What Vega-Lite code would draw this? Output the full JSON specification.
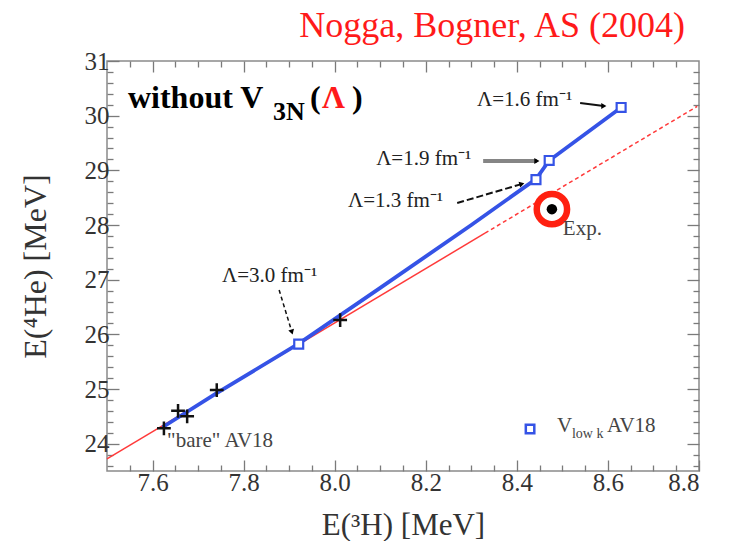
{
  "$schema": "https://vega.github.io/schema/vega-lite/v6.json",
  "width": 592,
  "height": 410,
  "autosize": {"type": "none"},
  "padding": {"left": 107, "top": 61, "right": 34, "bottom": 70},
  "datasets": {
    "tjon": [
      {"x": 7.5, "y": 23.72, "segment": "solid"},
      {"x": 8.33, "y": 27.85, "segment": "solid"},
      {"x": 8.33, "y": 27.85, "segment": "dotted"},
      {"x": 8.796, "y": 30.17, "segment": "dotted"}
    ],
    "vlowkLine": [
      {"x": 7.622, "y": 24.3},
      {"x": 7.74, "y": 24.92},
      {"x": 7.921, "y": 25.83},
      {"x": 8.1, "y": 26.85},
      {"x": 8.3, "y": 28.0},
      {"x": 8.442, "y": 28.84},
      {"x": 8.471, "y": 29.18},
      {"x": 8.629, "y": 30.15}
    ],
    "vlowk": [
      {"lambda": "1.6", "x": 8.629, "y": 30.15},
      {"lambda": "1.9", "x": 8.471, "y": 29.18},
      {"lambda": "1.3", "x": 8.442, "y": 28.83},
      {"lambda": "3.0", "x": 7.921, "y": 25.82}
    ],
    "bare": [
      {"x": 7.625, "y": 24.28},
      {"x": 7.656, "y": 24.6},
      {"x": 7.676, "y": 24.5},
      {"x": 7.741, "y": 24.98},
      {"x": 8.012, "y": 26.26}
    ],
    "exp": [{"x": 8.477, "y": 28.29}],
    "arrows": [
      {"label": "1.6", "x": 8.539, "y": 30.232, "x2": 8.591, "y2": 30.177},
      {"label": "1.9", "x": 8.326, "y": 29.171, "x2": 8.444, "y2": 29.171},
      {"label": "1.3", "x": 8.269, "y": 28.403, "x2": 8.411, "y2": 28.75},
      {"label": "3.0", "x": 7.878, "y": 26.811, "x2": 7.906, "y2": 26.043}
    ],
    "lambdaLabels": [
      {"text": "Λ=1.6 fm⁻¹", "x": 8.3125, "y": 30.177},
      {"text": "Λ=1.9 fm⁻¹", "x": 8.091, "y": 29.098},
      {"text": "Λ=1.3 fm⁻¹", "x": 8.029, "y": 28.33},
      {"text": "Λ=3.0 fm⁻¹", "x": 7.7525, "y": 26.958}
    ],
    "notes": [
      {"text": "\"bare\" AV18", "x": 7.632, "y": 23.94},
      {"text": "Exp.", "x": 8.501, "y": 27.817}
    ],
    "credit": [{"text": "Nogga, Bogner, AS (2004)", "x": 8.769, "y": 31.439}],
    "legendKey": [{"x": 8.429, "y": 24.269}],
    "legendText": [{"x": 8.488, "y": 24.214, "main": "V", "sub": "low k", "tail": "AV18"}],
    "heading": [{"x": 7.546, "y": 30.14, "a": "without V", "b": "3N", "c": "(", "d": "Λ", "e": ")"}]
  },
  "layer": [
    {
      "data": {"name": "tjon"},
      "transform": [{"filter": "datum.segment === 'solid'"}],
      "mark": {"type": "line", "color": "#ff3a3a", "strokeWidth": 1.5},
      "encoding": {
        "x": {"field": "x", "type": "quantitative", "scale": {"domain": [7.5, 8.8], "nice": false, "zero": false},
          "axis": {"orient": "bottom", "values": [7.6, 7.8, 8.0, 8.2, 8.4, 8.6, 8.8], "format": ".1f", "tickSize": -11, "labelPadding": 10, "title": "E(³H) [MeV]", "titlePadding": 15, "titleFontSize": 31}},
        "y": {"field": "y", "type": "quantitative", "scale": {"domain": [23.5, 31], "nice": false, "zero": false},
          "axis": {"orient": "left", "values": [24, 25, 26, 27, 28, 29, 30, 31], "tickSize": -12, "labelPadding": 10, "title": "E(⁴He) [MeV]", "titlePadding": 32, "titleFontSize": 32}}
      }
    },
    {
      "data": {"name": "tjon"},
      "transform": [{"filter": "datum.segment === 'dotted'"}],
      "mark": {"type": "line", "color": "#ff3a3a", "strokeWidth": 1.5, "strokeDash": [4, 3]},
      "encoding": {
        "x": {"field": "x", "type": "quantitative", "scale": {"domain": [7.5, 8.8], "nice": false, "zero": false},
          "axis": {"orient": "bottom", "values": [7.55, 7.65, 7.7, 7.75, 7.85, 7.9, 7.95, 8.05, 8.1, 8.15, 8.25, 8.3, 8.35, 8.45, 8.5, 8.55, 8.65, 8.7, 8.75], "tickSize": -6, "labels": false, "title": null}},
        "y": {"field": "y", "type": "quantitative", "scale": {"domain": [23.5, 31], "nice": false, "zero": false},
          "axis": {"orient": "left", "values": [23.6, 23.8, 24.2, 24.4, 24.6, 24.8, 25.2, 25.4, 25.6, 25.8, 26.2, 26.4, 26.6, 26.8, 27.2, 27.4, 27.6, 27.8, 28.2, 28.4, 28.6, 28.8, 29.2, 29.4, 29.6, 29.8, 30.2, 30.4, 30.6, 30.8], "tickSize": -6, "labels": false, "title": null}}
      }
    },
    {
      "data": {"name": "vlowkLine"},
      "mark": {"type": "line", "color": "#3553e6", "strokeWidth": 3.8},
      "encoding": {
        "x": {"field": "x", "type": "quantitative", "scale": {"domain": [7.5, 8.8], "nice": false, "zero": false},
          "axis": {"orient": "top", "values": [7.6, 7.8, 8.0, 8.2, 8.4, 8.6], "tickSize": -11, "labels": false, "title": null}},
        "y": {"field": "y", "type": "quantitative", "scale": {"domain": [23.5, 31], "nice": false, "zero": false},
          "axis": {"orient": "right", "values": [24, 25, 26, 27, 28, 29, 30], "tickSize": -12, "labels": false, "title": null}}
      }
    },
    {
      "data": {"name": "bare"},
      "mark": {"type": "point", "shape": "M-1,0H1M0,-1V1", "filled": false, "stroke": "#111111", "strokeWidth": 2.5, "size": 190, "opacity": 1},
      "encoding": {
        "x": {"field": "x", "type": "quantitative", "scale": {"domain": [7.5, 8.8], "nice": false, "zero": false},
          "axis": {"orient": "top", "values": [7.55, 7.65, 7.7, 7.75, 7.85, 7.9, 7.95, 8.05, 8.1, 8.15, 8.25, 8.3, 8.35, 8.45, 8.5, 8.55, 8.65, 8.7, 8.75], "tickSize": -6, "labels": false, "title": null}},
        "y": {"field": "y", "type": "quantitative", "scale": {"domain": [23.5, 31], "nice": false, "zero": false},
          "axis": {"orient": "right", "values": [23.6, 23.8, 24.2, 24.4, 24.6, 24.8, 25.2, 25.4, 25.6, 25.8, 26.2, 26.4, 26.6, 26.8, 27.2, 27.4, 27.6, 27.8, 28.2, 28.4, 28.6, 28.8, 29.2, 29.4, 29.6, 29.8, 30.2, 30.4, 30.6, 30.8], "tickSize": -6, "labels": false, "title": null}}
      }
    },
    {
      "data": {"name": "vlowk"},
      "mark": {"type": "point", "shape": "square", "filled": true, "fill": "white", "stroke": "#3553e6", "strokeWidth": 2.2, "size": 80, "opacity": 1},
      "encoding": {
        "x": {"field": "x", "type": "quantitative", "axis": null},
        "y": {"field": "y", "type": "quantitative", "axis": null}
      }
    },
    {
      "data": {"name": "legendKey"},
      "mark": {"type": "point", "shape": "square", "filled": true, "fill": "white", "stroke": "#3553e6", "strokeWidth": 2.5, "size": 72, "opacity": 1},
      "encoding": {
        "x": {"field": "x", "type": "quantitative", "axis": null},
        "y": {"field": "y", "type": "quantitative", "axis": null}
      }
    },
    {
      "data": {"name": "exp"},
      "mark": {"type": "point", "shape": "circle", "filled": false, "stroke": "#ff2010", "strokeWidth": 6.5, "size": 920, "opacity": 1},
      "encoding": {
        "x": {"field": "x", "type": "quantitative", "axis": null},
        "y": {"field": "y", "type": "quantitative", "axis": null}
      }
    },
    {
      "data": {"name": "exp"},
      "mark": {"type": "point", "shape": "circle", "filled": true, "fill": "#000000", "size": 110, "opacity": 1},
      "encoding": {
        "x": {"field": "x", "type": "quantitative", "axis": null},
        "y": {"field": "y", "type": "quantitative", "axis": null}
      }
    },
    {
      "data": {"name": "arrows"},
      "transform": [{"filter": "datum.label === '1.6'"}],
      "mark": {"type": "rule", "color": "#111111", "strokeWidth": 2},
      "encoding": {
        "x": {"field": "x", "type": "quantitative", "axis": null}, "y": {"field": "y", "type": "quantitative", "axis": null},
        "x2": {"field": "x2"}, "y2": {"field": "y2"}
      }
    },
    {
      "data": {"name": "arrows"},
      "transform": [{"filter": "datum.label === '1.9'"}],
      "mark": {"type": "rule", "color": "#858585", "strokeWidth": 4},
      "encoding": {
        "x": {"field": "x", "type": "quantitative", "axis": null}, "y": {"field": "y", "type": "quantitative", "axis": null},
        "x2": {"field": "x2"}, "y2": {"field": "y2"}
      }
    },
    {
      "data": {"name": "arrows"},
      "transform": [{"filter": "datum.label === '1.3'"}],
      "mark": {"type": "rule", "color": "#111111", "strokeWidth": 2, "strokeDash": [7, 3]},
      "encoding": {
        "x": {"field": "x", "type": "quantitative", "axis": null}, "y": {"field": "y", "type": "quantitative", "axis": null},
        "x2": {"field": "x2"}, "y2": {"field": "y2"}
      }
    },
    {
      "data": {"name": "arrows"},
      "transform": [{"filter": "datum.label === '3.0'"}],
      "mark": {"type": "rule", "color": "#111111", "strokeWidth": 1.5, "strokeDash": [4, 3]},
      "encoding": {
        "x": {"field": "x", "type": "quantitative", "axis": null}, "y": {"field": "y", "type": "quantitative", "axis": null},
        "x2": {"field": "x2"}, "y2": {"field": "y2"}
      }
    },
    {
      "data": {"name": "arrows"},
      "transform": [{"filter": "datum.label === '1.6' || datum.label === '1.9'"}],
      "mark": {"type": "point", "shape": "triangle-right", "filled": true, "fill": "#000000", "size": 35, "opacity": 1},
      "encoding": {
        "x": {"field": "x2", "type": "quantitative", "axis": null}, "y": {"field": "y2", "type": "quantitative", "axis": null}
      }
    },
    {
      "data": {"name": "arrows"},
      "transform": [{"filter": "datum.label === '1.3'"}],
      "mark": {"type": "point", "shape": "triangle-right", "filled": true, "fill": "#000000", "size": 35, "opacity": 1, "angle": -16},
      "encoding": {
        "x": {"field": "x2", "type": "quantitative", "axis": null}, "y": {"field": "y2", "type": "quantitative", "axis": null}
      }
    },
    {
      "data": {"name": "arrows"},
      "transform": [{"filter": "datum.label === '3.0'"}],
      "mark": {"type": "point", "shape": "triangle-right", "filled": true, "fill": "#000000", "size": 35, "opacity": 1, "angle": 73},
      "encoding": {
        "x": {"field": "x2", "type": "quantitative", "axis": null}, "y": {"field": "y2", "type": "quantitative", "axis": null}
      }
    },
    {
      "data": {"name": "lambdaLabels"},
      "mark": {"type": "text", "align": "left", "baseline": "alphabetic", "font": "Liberation Serif", "fontSize": 21, "color": "#222222"},
      "encoding": {
        "x": {"field": "x", "type": "quantitative", "axis": null}, "y": {"field": "y", "type": "quantitative", "axis": null},
        "text": {"field": "text"}
      }
    },
    {
      "data": {"name": "notes"},
      "mark": {"type": "text", "align": "left", "baseline": "alphabetic", "font": "Liberation Serif", "fontSize": 21, "color": "#444444"},
      "encoding": {
        "x": {"field": "x", "type": "quantitative", "axis": null}, "y": {"field": "y", "type": "quantitative", "axis": null},
        "text": {"field": "text"}
      }
    },
    {
      "data": {"name": "credit"},
      "mark": {"type": "text", "align": "right", "baseline": "alphabetic", "font": "Liberation Serif", "fontSize": 36, "color": "#ff1a1a"},
      "encoding": {
        "x": {"field": "x", "type": "quantitative", "axis": null}, "y": {"field": "y", "type": "quantitative", "axis": null},
        "text": {"field": "text"}
      }
    },
    {
      "data": {"name": "legendText"},
      "mark": {"type": "text", "align": "left", "baseline": "alphabetic", "font": "Liberation Serif", "fontSize": 21, "color": "#444444"},
      "encoding": {
        "x": {"field": "x", "type": "quantitative", "axis": null}, "y": {"field": "y", "type": "quantitative", "axis": null},
        "text": {"field": "main"}
      }
    },
    {
      "data": {"name": "legendText"},
      "mark": {"type": "text", "align": "left", "baseline": "alphabetic", "font": "Liberation Serif", "fontSize": 14, "color": "#444444", "dx": 15, "dy": 6},
      "encoding": {
        "x": {"field": "x", "type": "quantitative", "axis": null}, "y": {"field": "y", "type": "quantitative", "axis": null},
        "text": {"field": "sub"}
      }
    },
    {
      "data": {"name": "legendText"},
      "mark": {"type": "text", "align": "left", "baseline": "alphabetic", "font": "Liberation Serif", "fontSize": 21, "color": "#444444", "dx": 50},
      "encoding": {
        "x": {"field": "x", "type": "quantitative", "axis": null}, "y": {"field": "y", "type": "quantitative", "axis": null},
        "text": {"field": "tail"}
      }
    },
    {
      "data": {"name": "heading"},
      "mark": {"type": "text", "align": "left", "baseline": "alphabetic", "font": "Liberation Serif", "fontSize": 32, "fontWeight": "bold", "color": "#000000"},
      "encoding": {
        "x": {"field": "x", "type": "quantitative", "axis": null}, "y": {"field": "y", "type": "quantitative", "axis": null},
        "text": {"field": "a"}
      }
    },
    {
      "data": {"name": "heading"},
      "mark": {"type": "text", "align": "left", "baseline": "alphabetic", "font": "Liberation Serif", "fontSize": 26, "fontWeight": "bold", "color": "#000000", "dx": 145, "dy": 12},
      "encoding": {
        "x": {"field": "x", "type": "quantitative", "axis": null}, "y": {"field": "y", "type": "quantitative", "axis": null},
        "text": {"field": "b"}
      }
    },
    {
      "data": {"name": "heading"},
      "mark": {"type": "text", "align": "left", "baseline": "alphabetic", "font": "Liberation Serif", "fontSize": 32, "fontWeight": "bold", "color": "#000000", "dx": 182},
      "encoding": {
        "x": {"field": "x", "type": "quantitative", "axis": null}, "y": {"field": "y", "type": "quantitative", "axis": null},
        "text": {"field": "c"}
      }
    },
    {
      "data": {"name": "heading"},
      "mark": {"type": "text", "align": "left", "baseline": "alphabetic", "font": "Liberation Serif", "fontSize": 32, "fontWeight": "bold", "color": "#ff1a1a", "dx": 194},
      "encoding": {
        "x": {"field": "x", "type": "quantitative", "axis": null}, "y": {"field": "y", "type": "quantitative", "axis": null},
        "text": {"field": "d"}
      }
    },
    {
      "data": {"name": "heading"},
      "mark": {"type": "text", "align": "left", "baseline": "alphabetic", "font": "Liberation Serif", "fontSize": 32, "fontWeight": "bold", "color": "#000000", "dx": 224},
      "encoding": {
        "x": {"field": "x", "type": "quantitative", "axis": null}, "y": {"field": "y", "type": "quantitative", "axis": null},
        "text": {"field": "e"}
      }
    }
  ],
  "resolve": {"axis": {"x": "independent", "y": "independent"}},
  "config": {
    "view": {"stroke": "#8a8a8a", "strokeWidth": 1.5},
    "axis": {"domain": false, "grid": false, "tickColor": "#7a7a7a", "tickWidth": 1.3, "labelFont": "Liberation Serif", "labelFontSize": 25, "labelColor": "#333333", "titleFont": "Liberation Serif", "titleFontSize": 29, "titleFontWeight": "normal", "titleColor": "#333333"}
  }
}
